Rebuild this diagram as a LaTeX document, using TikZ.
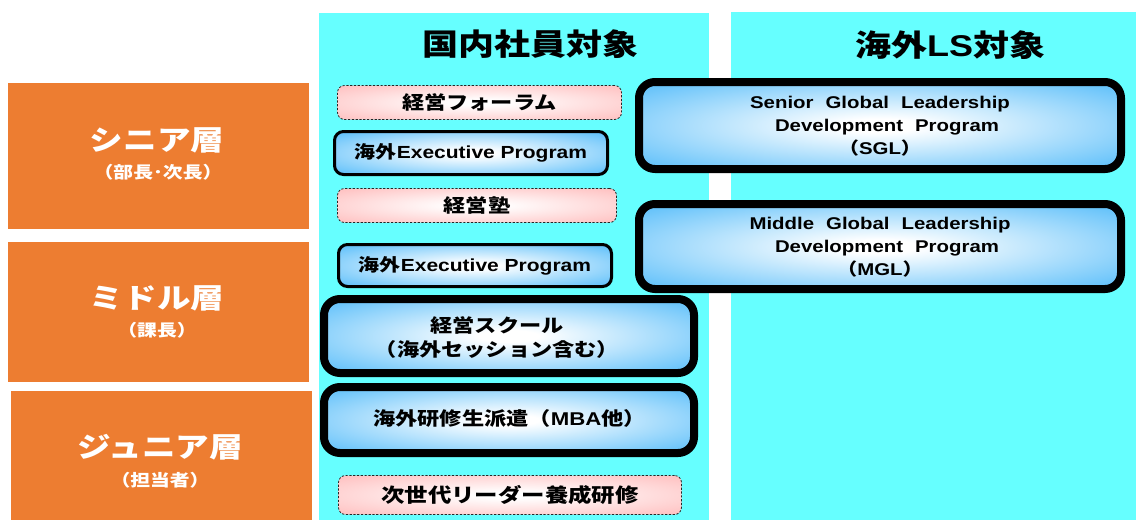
\documentclass[tikz,border=0pt]{standalone}
\usepackage{fontspec}
\setmainfont{Liberation Sans}[FakeStretch=1.2]
\newfontfamily\jp{Noto Sans CJK JP}[FakeStretch=1.2]
\definecolor{cyanbg}{HTML}{66FFFF}
\definecolor{orng}{HTML}{ED7D31}
\definecolor{bblue}{HTML}{64C2FA}
\definecolor{pinkc}{HTML}{FFC4C4}
\pgfdeclareradialshading{bshade}{\pgfpoint{0bp}{0bp}}{color(0bp)=(white); color(4bp)=(white); color(33bp)=(bblue); color(75bp)=(bblue)}
\pgfdeclareradialshading{pshade}{\pgfpoint{0bp}{0bp}}{color(0bp)=(white); color(4bp)=(white); color(33bp)=(pinkc); color(75bp)=(pinkc)}
\newcommand{\wg}{\hspace{12pt}}
\begin{document}
\begin{tikzpicture}[x=1pt,y=-1pt,
  col/.style={fill=cyanbg, inner sep=0pt},
  tier/.style={fill=orng, inner sep=0pt},
  tiermain/.style={text=white, font=\fontsize{28}{32}\selectfont\bfseries\jp, inner sep=0pt},
  tiersub/.style={text=white, font=\fontsize{16.5}{20}\selectfont\bfseries\jp, inner sep=0pt},
  head/.style={font=\fontsize{30}{34}\selectfont\bfseries, inner sep=0pt},
  pinkbox/.style={draw=black!85, dash pattern=on 2.2pt off 1.6pt, line width=0.8pt, rounded corners=7pt, shading=pshade, inner sep=0pt, font=\fontsize{18.5}{22}\selectfont\bfseries\jp},
  bluebox/.style={draw=black, line width=3pt, rounded corners=9pt, shading=bshade, inner sep=0pt, font=\fontsize{17.5}{21}\selectfont\bfseries},
  thickbox/.style={draw=black, line width=8pt, rounded corners=16pt, shading=bshade, inner sep=0pt},
  boxtxt/.style={inner sep=0pt, align=center, font=\fontsize{18.5}{24}\selectfont\bfseries\jp},
  engtxt/.style={inner sep=0pt, align=center, font=\fontsize{17}{23}\selectfont\bfseries}
]
\useasboundingbox (0,0) rectangle (1136,520);
\fill[white] (0,0) rectangle (1136,520);
% columns
\node[col, minimum width=390, minimum height=507] (dom) at (514,266.5) {};
\node[col, minimum width=405, minimum height=508] (ovs) at (933.5,266) {};
\node[head] (domh) at (530,44) {\jp 国内社員対象};
\node[head] (ovsh) at (950,45) {{\jp 海外}LS{\jp 対象}};
% tiers
\node[tier, minimum width=301, minimum height=146] (sen) at (158.5,156) {};
\node[tier, minimum width=301, minimum height=140] (mid) at (158.5,312) {};
\node[tier, minimum width=301, minimum height=129] (jun) at (161.5,455.5) {};
\node[tiermain] (senm) at (157,140) {シニア層};
\node[tiersub] (sens) at (158,172) {（部長･次長）};
\node[tiermain] (midm) at (157,298) {ミドル層};
\node[tiersub] (mids) at (157,330) {（課長）};
\node[tiermain] (junm) at (160,447) {ジュニア層};
\node[tiersub] (juns) at (160,480) {（担当者）};
% domestic programs
\node[pinkbox, minimum width=284, minimum height=34] (forum) at (479.5,102.5) {経営フォーラム};
\node[bluebox, minimum width=273, minimum height=43] (ep1) at (471,153) {{\jp 海外}Executive Program};
\node[pinkbox, minimum width=279, minimum height=34] (juku) at (477,205.5) {経営塾};
\node[bluebox, minimum width=273, minimum height=42] (ep2) at (475,265.5) {{\jp 海外}Executive Program};
\node[thickbox, minimum width=370, minimum height=74] (school) at (509,336) {};
\node[boxtxt] (schoolt) at (497,338) {経営スクール\\（海外セッション含む）};
\node[thickbox, minimum width=370, minimum height=66] (haken) at (509,420) {};
\node[boxtxt] (hakent) at (509.5,418) {海外研修生派遣（{\rmfamily MBA}他）};
\node[pinkbox, minimum width=343, minimum height=39, font=\fontsize{19.5}{22}\selectfont\bfseries\jp] (jisedai) at (510,495) {次世代リーダー養成研修};
% overseas programs
\node[thickbox, minimum width=482, minimum height=87] (sgl) at (880,125.5) {};
\node[engtxt] (sglt) at (880,126) {Senior\wg Global\wg Leadership\\\hspace{14pt}Development\wg Program\\{\jp （}SGL{\jp ）}};
\node[thickbox, minimum width=482, minimum height=85] (mgl) at (880,246.5) {};
\node[engtxt] (mglt) at (880,247) {Middle\wg Global\wg Leadership\\\hspace{14pt}Development\wg Program\\{\jp （}MGL{\jp ）}};
\end{tikzpicture}
\end{document}
